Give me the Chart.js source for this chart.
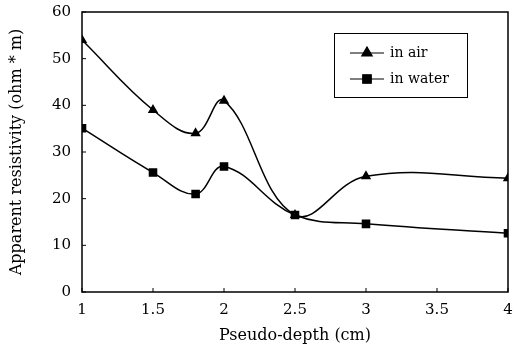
<!DOCTYPE html>
<html>
<head>
<meta charset="utf-8">
<script src="https://cdn.jsdelivr.net/npm/chart.js@4/dist/chart.umd.min.js"></script>
<style>
  html, body { margin: 0; padding: 0; background: #fff; }
  #wrap { width: 519px; height: 345px; }
</style>
</head>
<body>
<div id="wrap"><canvas id="c" width="519" height="345"></canvas></div>
<script>
const depth = [1, 1.5, 1.8, 2, 2.5, 3, 4];
const inAir = [54, 39, 34, 41, 16.5, 24.8, 24.4];
const inWater = [35.1, 25.6, 21, 26.9, 16.5, 14.6, 12.6];
const xTicks = [1, 1.5, 2, 2.5, 3, 3.5, 4];
const yTicks = [0, 10, 20, 30, 40, 50, 60];

const serif = "'DejaVu Serif', serif";

// frame + inward ticks + legend box with line/marker samples
const framePlugin = {
  id: "frame",
  afterDraw(chart) {
    const { ctx, chartArea: a, scales } = chart;
    ctx.save();
    ctx.strokeStyle = "#000";
    ctx.lineWidth = 1.5;
    ctx.strokeRect(a.left, a.top, a.right - a.left, a.bottom - a.top);

    ctx.lineWidth = 1;
    ctx.beginPath();
    xTicks.forEach((v) => {
      const px = scales.x.getPixelForValue(v);
      ctx.moveTo(px, a.bottom);
      ctx.lineTo(px, a.bottom - 4);
    });
    yTicks.forEach((v) => {
      const py = scales.y.getPixelForValue(v);
      ctx.moveTo(a.left, py);
      ctx.lineTo(a.left + 4, py);
    });
    ctx.stroke();

    // legend
    const bx = 334, by = 33, bw = 133, bh = 64;
    ctx.lineWidth = 1;
    ctx.strokeRect(bx + 0.5, by + 0.5, bw, bh);
    const rows = [
      { label: "in air", style: "triangle", y: 53 },
      { label: "in water", style: "rect", y: 79 },
    ];
    ctx.font = "14px " + serif;
    ctx.textBaseline = "middle";
    ctx.fillStyle = "#000";
    rows.forEach((r) => {
      ctx.lineWidth = 1.2;
      ctx.beginPath();
      ctx.moveTo(350, r.y);
      ctx.lineTo(384, r.y);
      ctx.stroke();
      Chart.helpers.drawPoint(ctx, {
        pointStyle: r.style,
        radius: 6,
        rotation: 0,
        borderWidth: 1,
      }, 367, r.y);
      ctx.fill();
      ctx.fillText(r.label, 390, r.y);
    });
    ctx.restore();
  },
};

new Chart(document.getElementById("c"), {
  type: "line",
  data: {
    datasets: [
      {
        label: "in air",
        data: depth.map((d, i) => ({ x: d, y: inAir[i] })),
        borderColor: "#000",
        backgroundColor: "#000",
        borderWidth: 1.5,
        pointStyle: "triangle",
        pointRadius: 4.5,
        tension: 0.4,
      },
      {
        label: "in water",
        data: depth.map((d, i) => ({ x: d, y: inWater[i] })),
        borderColor: "#000",
        backgroundColor: "#000",
        borderWidth: 1.5,
        pointStyle: "rect",
        pointRadius: 5,
        tension: 0.4,
      },
    ],
  },
  options: {
    responsive: false,
    animation: false,
    layout: { padding: { top: 10, right: 11, left: 7, bottom: 0 } },
    plugins: { legend: { display: false }, tooltip: { enabled: false } },
    scales: {
      x: {
        type: "linear",
        min: 1,
        max: 4,
        afterBuildTicks: (s) => { s.ticks = xTicks.map((v) => ({ value: v })); },
        afterFit: (s) => { s.height = 53; },
        grid: { display: false },
        border: { display: false },
        ticks: {
          color: "#000",
          font: { family: serif, size: 15 },
          padding: 1,
          maxRotation: 0,
          callback: (v) => String(v),
        },
        title: {
          display: true,
          text: "Pseudo-depth (cm)",
          color: "#000",
          font: { family: serif, size: 16 },
          padding: { top: 4, bottom: 0 },
        },
      },
      y: {
        min: 0,
        max: 60,
        afterBuildTicks: (s) => { s.ticks = yTicks.map((v) => ({ value: v })); },
        afterFit: (s) => { s.width = 75; },
        grid: { display: false },
        border: { display: false },
        ticks: {
          color: "#000",
          font: { family: serif, size: 15 },
          padding: 3,
        },
        title: {
          display: true,
          text: "Apparent resistivity (ohm * m)",
          color: "#000",
          font: { family: serif, size: 16 },
          padding: { top: 0, bottom: 4 },
        },
      },
    },
  },
  plugins: [framePlugin],
});
</script>
</body>
</html>
